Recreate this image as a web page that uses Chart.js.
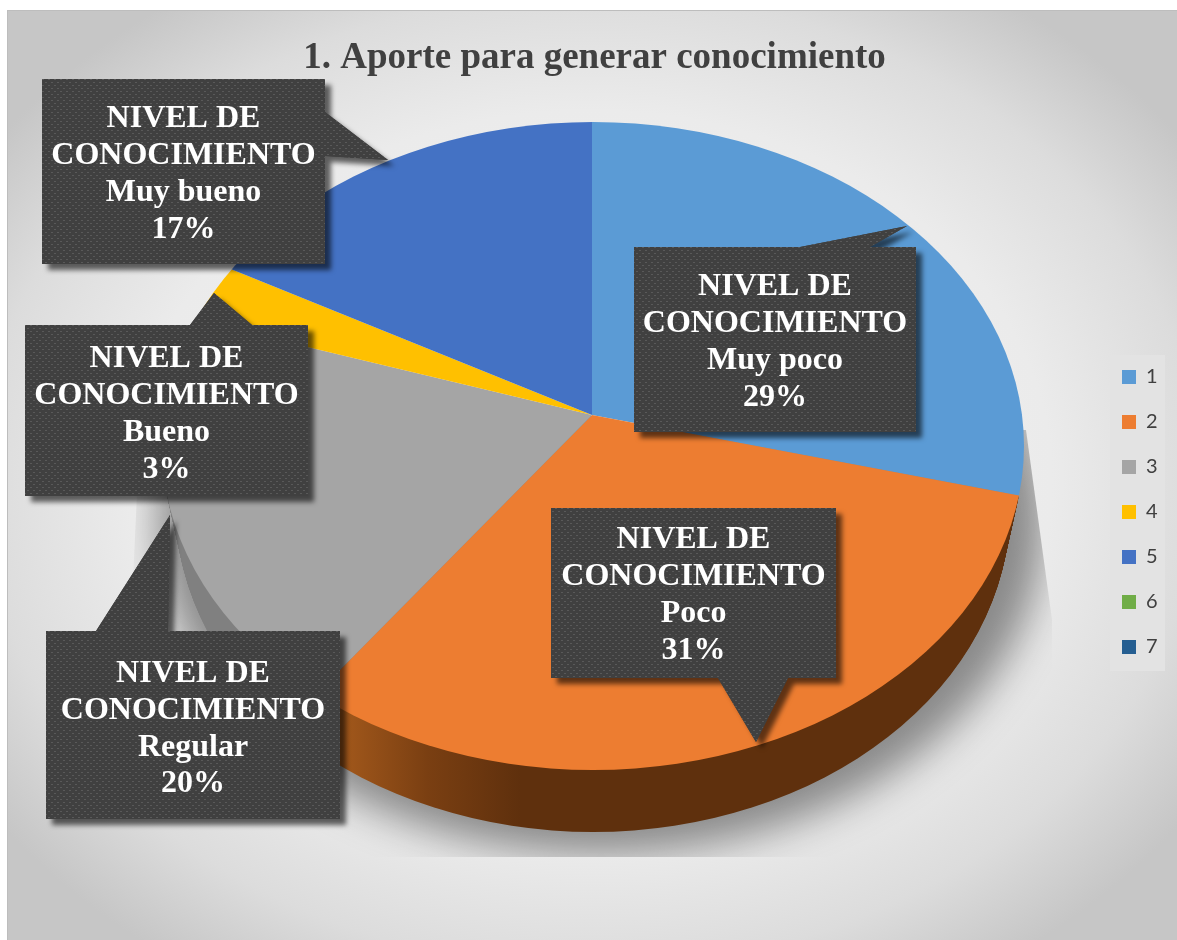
<!DOCTYPE html>
<html><head><meta charset="utf-8">
<style>html,body{margin:0;padding:0;background:#fff;overflow:hidden}#w{width:1177px;height:940px;position:relative}</style>
<script src="https://cdn.jsdelivr.net/npm/chart.js@4/dist/chart.umd.min.js"></script>
</head><body><div id="w"><canvas id="c"></canvas></div>
<script>
const categories = ['1','2','3','4','5','6','7'];
const values = [29,31,20,3,17,0,0];
const colors = ['#5B9BD5','#ED7D31','#A5A5A5','#FFC000','#4472C4','#70AD47','#255E91'];
const rimColors = [null,'#5f300d','#808080',null,null,null,null];
const levels = ['Muy poco','Poco','Regular','Bueno','Muy bueno'];
const seriesName = 'NIVEL DE CONOCIMIENTO';
const titleText = '1. Aporte para generar conocimiento';

// layout of the drawing (not data)
const APEX = {x:592,y:415}, ELL = {x:593,y:446,rx:431,ry:324}, DEPTH = 62, TAPER = 14, TILT = .735, REACH = 650;
const callouts = [
 {box:[634,247,916,432], ptr:[[800,247],[907,226],[870,247]], y0:287, dy:37},
 {box:[551,508,836,678], ptr:[[718,678],[756,742],[788,678]], y0:540, dy:37},
 {box:[46,631,340,819],  ptr:[[96,631],[170,515],[168,631]],  y0:674, dy:36.7},
 {box:[25,325,308,496],  ptr:[[190,325],[214,293],[252,325]], y0:359, dy:37},
 {box:[42,79,325,264],   ptr:[[325,112],[388,160],[325,156]], y0:119, dy:37}
];

function ellipsePath(ctx,dy){ctx.beginPath();ctx.ellipse(ELL.x,ELL.y+dy,ELL.rx-TAPER*dy/DEPTH,ELL.ry,0,0,Math.PI*2);}

const scene = {
 id:'scene',
 afterLayout(chart){
  const l = chart.legend; l.left=1097; l.right=1177; l.top=342; l.bottom=800; l.width=80; l.height=458;
  l.options.align='start';
 },
 beforeDraw(chart){
  const c = chart.ctx, W = chart.width, H = chart.height;
  c.save();
  c.fillStyle='#fff'; c.fillRect(0,0,W,H);
  c.fillStyle='#bdbdbd'; c.fillRect(7,10,W-7,H-10);
  c.save();
  c.beginPath(); c.rect(8,11,W-8,H-11); c.clip();
  c.translate(590,480); c.scale(1,.8);
  const g = c.createRadialGradient(0,0,60,0,0,730);
  g.addColorStop(0,'#f4f4f4'); g.addColorStop(.6,'#ebebeb'); g.addColorStop(.82,'#dcdcdc'); g.addColorStop(1,'#c6c6c6');
  c.fillStyle=g; c.fillRect(-700,-700,1400,1400);
  c.restore();
  // legend panel
  c.fillStyle='#e3e3e3'; c.fillRect(1110,355,55,316);
  c.restore();
 },
 beforeDatasetsDraw(chart){
  const c = chart.ctx, arcs = chart.getDatasetMeta(0).data;
  const a0 = arcs[0], S = REACH/a0.outerRadius;
  const toLocal = X => a0.x + (X-APEX.x)/S;
  const place = dy => { c.translate(APEX.x,APEX.y+dy); c.scale(S,S*TILT); c.translate(-a0.x,-a0.y); };
  // soft shadow under the disc
  c.save();
  c.beginPath(); c.moveTo(1026,430); c.lineTo(1052,620); c.lineTo(1052,857); c.lineTo(120,857); c.lineTo(140,430); c.closePath(); c.clip();
  c.shadowColor='rgba(0,0,0,.42)'; c.shadowBlur=40; c.shadowOffsetX=3000; c.shadowOffsetY=8;
  c.fillStyle='#000';
  c.beginPath(); c.ellipse(ELL.x+8-3000,ELL.y+68,ELL.rx+12,ELL.ry+8,0,0,Math.PI*2); c.fill();
  c.restore();
  // side wall: library arcs redrawn at growing depth
  const rimG = c.createLinearGradient(toLocal(335),0,toLocal(520),0);
  rimG.addColorStop(0,'#a55a1c'); rimG.addColorStop(.5,'#7a3f12'); rimG.addColorStop(1,rimColors[1]);
  for(let dy=DEPTH;dy>=1;dy--){
   c.save();
   ellipsePath(c,dy); c.clip();
   place(dy);
   arcs.forEach((a,i)=>{
    if(!rimColors[i]) return;
    const o=a.options;
    a.options=Object.create(o,{backgroundColor:{value:i===1?rimG:rimColors[i]}});
    a.draw(c);
    a.options=o;
   });
   c.restore();
  }
  // top face
  c.save();
  ellipsePath(c,0); c.clip();
  place(0);
  arcs.forEach(a=>a.draw(c));
  c.restore();
  return false;
 },
 afterDraw(chart){
  const c = chart.ctx;
  const tile = document.createElement('canvas'); tile.width=6; tile.height=6;
  const t = tile.getContext('2d');
  t.fillStyle='#404040'; t.fillRect(0,0,6,6);
  t.fillStyle='#595959'; t.fillRect(0,1,2,1); t.fillRect(3,4,2,1);
  const pat = c.createPattern(tile,'repeat');
  callouts.forEach((co,i)=>{
   const [x0,y0,x1,y1]=co.box;
   c.save();
   c.shadowColor='rgba(0,0,0,.6)'; c.shadowBlur=5; c.shadowOffsetX=6; c.shadowOffsetY=6;
   c.fillStyle='#404040';
   c.beginPath(); c.rect(x0,y0,x1-x0,y1-y0);
   c.moveTo(co.ptr[0][0],co.ptr[0][1]); c.lineTo(co.ptr[1][0],co.ptr[1][1]); c.lineTo(co.ptr[2][0],co.ptr[2][1]); c.closePath();
   c.fill();
   c.shadowColor='transparent';
   c.fillStyle=pat; c.fill();
   c.fillStyle='#fff'; c.font='bold 32px "Liberation Serif"'; c.textAlign='center'; c.textBaseline='middle';
   const lines=[...seriesName.replace('DE ','DE\n').split('\n'),levels[i],values[i]+'%'];
   lines.forEach((s,k)=>c.fillText(s,(x0+x1)/2,co.y0+k*co.dy));
   c.restore();
  });
 }
};

new Chart(document.getElementById('c'),{
 type:'pie',
 data:{labels:categories,datasets:[{data:values,backgroundColor:colors,borderWidth:0}]},
 options:{
  responsive:true,maintainAspectRatio:false,animation:false,
  layout:{padding:{left:12,top:0}},
  plugins:{
   title:{display:true,text:titleText,color:'#404040',font:{family:'"Liberation Serif"',size:37,weight:'bold'},padding:{top:36,bottom:8}},
   legend:{display:true,position:'right',labels:{boxWidth:14,boxHeight:14,padding:25,color:'#404040',font:{family:'Lato',size:20}}},
   tooltip:{enabled:false}
  }
 },
 plugins:[scene]
});
</script></body></html>
